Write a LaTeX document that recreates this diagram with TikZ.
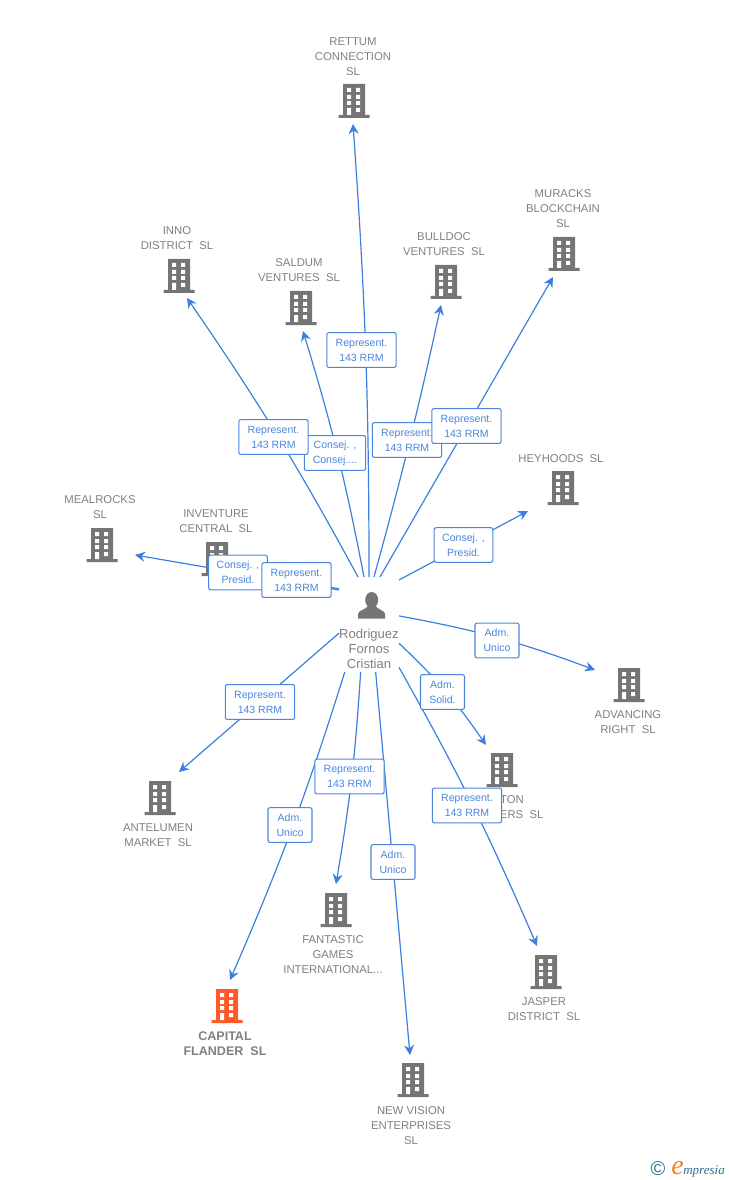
\documentclass[tikz,border=0pt]{standalone}
\usepackage{fontspec}
\setmainfont{Liberation Sans}
\newfontfamily\logofont{Liberation Serif}
\usetikzlibrary{arrows.meta}
\definecolor{linkblue}{HTML}{3B80E0}
\definecolor{tagblue}{HTML}{4A86DC}
\definecolor{towergray}{HTML}{757575}
\definecolor{namegray}{HTML}{808080}
\definecolor{towerred}{HTML}{FF5A2B}
\definecolor{logoteal}{HTML}{2F6F8F}
\definecolor{logoorange}{HTML}{F58220}
\tikzset{
  pics/tower/.style={code={
    \fill[#1] (-11,-17) rectangle (11,14) (-15.5,14) rectangle (15.5,17);
    \fill[white] (-7,-13) rectangle (-3,-9) (2,-13) rectangle (6,-9)
      (-7,-6) rectangle (-3,-2) (2,-6) rectangle (6,-2)
      (-7,0) rectangle (-3,4) (2,0) rectangle (6,4)
      (-7,7) rectangle (-3,14) (2,7) rectangle (6,11);
  }}
}
\begin{document}
\begin{tikzpicture}[x=0.75pt,y=-0.75pt,
  spot/.style = {inner sep=0pt,outer sep=0pt,minimum size=24pt},
  towername/.style = {align=center,text=namegray,yshift=-0.7pt,font=\fontsize{8.5}{11.25}\selectfont},
  boldname/.style = {align=center,text=namegray,yshift=-0.7pt,font=\fontsize{9.4}{11.25}\selectfont\bfseries},
  tag/.style = {rectangle,rounded corners=1.5pt,draw=tagblue,thick,fill=white,text=tagblue,
    align=center,minimum height=26pt,inner sep=0pt,font=\fontsize{7.9}{11.25}\selectfont,
    execute at begin node={\rule{0pt}{7.2pt}}},
  link/.style = {draw=linkblue,line width=0.9pt,-{Stealth[length=7.5pt,width=7.5pt,inset=2.5pt]}}]
\useasboundingbox (0,0) rectangle (728,1180);
% buildings
\foreach \nm/\x/\y in {rettum/354/101, muracks/564/254, inno/179/276, saldum/301/308,
    bulldoc/446/282, heyhoods/563/488, mealrocks/102/545, inventure/217/559,
    advancing/629/685, antelumen/160/798, xton/502/770, jasper/546/972,
    fantastic/336/910, newvision/413/1080}{
  \node[spot] (\nm) at (\x,\y) {};
  \pic at (\nm) {tower=towergray};
}
\node[spot] (capital) at (227,1006) {};
\pic at (capital) {tower=towerred};
% arrow ends
\foreach \nm/\x/\y in {rettum/353/124, muracks/553/277, inno/187/298, saldum/303/331,
    bulldoc/441/305, heyhoods/528/511, mealrocks/135/555, inventure/252/574,
    advancing/595/670, antelumen/179/772, xton/486/745, jasper/537/946,
    fantastic/336/884, newvision/410/1055, capital/230/980}
  \coordinate (tip \nm) at (\x,\y);
% names
\foreach \nm/\x/\y/\t in {rettum/353/56/{RETTUM\\CONNECTION\\SL}, inno/177/237.5/{INNO\\DISTRICT\ \ SL},
    saldum/299/269.5/{SALDUM\\VENTURES\ \ SL}, bulldoc/444/243.5/{BULLDOC\\VENTURES\ \ SL},
    muracks/563/208/{MURACKS\\BLOCKCHAIN\\SL}, heyhoods/561/458/{HEYHOODS\ \ SL},
    mealrocks/100/506.5/{MEALROCKS\\SL}, inventure/216/520.5/{INVENTURE\\CENTRAL\ \ SL},
    advancing/628/721.5/{ADVANCING\\RIGHT\ \ SL}, antelumen/158/834.5/{ANTELUMEN\\MARKET\ \ SL},
    xton/500/806/{\hspace*{18pt}TON\\\hspace*{32.5pt}ERS\ \ SL}, jasper/544/1008.5/{JASPER\\DISTRICT\ \ SL},
    fantastic/333/954/{FANTASTIC\\GAMES\\INTERNATIONAL...}, newvision/411/1125/{NEW VISION\\ENTERPRISES\\SL}}{
  \node[towername] (name \nm) at (\x,\y) {\t};
}
\node[boldname] (name capital) at (225,1043) {CAPITAL\\FLANDER\ \ SL};
% person
\node[rectangle,minimum width=45pt,minimum height=71.25pt,inner sep=0pt,outer sep=0pt] (person) at (369,624.5) {};
\node[align=center,text=namegray,yshift=-0.7pt,font=\fontsize{9.8}{11.25}\selectfont] (name person) at (369,648) {Rodriguez\\Fornos\\Cristian};
\fill[towergray] (371.7,600) ellipse (6.5 and 8);
\fill[towergray] (358,618.5) -- (358,614) .. controls (358,610.5) and (365,610) .. (368,606)
  -- (375.5,606) .. controls (378.5,610) and (385,610.5) .. (385,614) -- (385,618.5) -- cycle;
% connectors
\draw[link] (person.103) to[bend right=3] (tip inno);
\draw[link] (person.96) to[bend right=3] (tip saldum);
\draw[link] (person.90) to[bend right=2] (tip rettum);
\draw[link] (person.84) to[bend right=1.5] (tip bulldoc);
\draw[link] (person.77) -- (tip muracks);
\draw[link] (person.56) -- (tip heyhoods);
\draw[link] (person.16) to[bend left=5] (tip advancing);
\draw[link] (person.-32) to[bend left=6] (tip xton);
\draw[link] (person.-55) to[bend left=3] (tip jasper);
\draw[link] (person.-82) -- (tip newvision);
\draw[link] (person.260) to[bend left=3] (tip fantastic);
\draw[link] (person.243) to[bend left=3] (tip capital);
\draw[link] (person.196) -- (tip antelumen);
\draw[link] (person.131) -- (tip mealrocks);
\draw[link] (person.130) -- (tip inventure);
% tags
\node[tag,minimum width=46pt] (t saldum) at (335,453) {Consej. ,\\Consej....};
\node[tag,minimum width=52pt] (t inno) at (273.5,437) {Represent.\\143 RRM};
\node[tag,minimum width=52pt] (t rettum) at (361.5,350) {Represent.\\143 RRM};
\node[tag,minimum width=52pt] (t bulldoc) at (407,440) {Represent.\\143 RRM};
\node[tag,minimum width=52pt] (t muracks) at (466.5,426) {Represent.\\143 RRM};
\node[tag,minimum width=44pt] (t heyhoods) at (463.5,545) {Consej. ,\\Presid.};
\node[tag,minimum width=44pt] (t mealrocks) at (238,572.5) {Consej. ,\\Presid.};
\node[tag,minimum width=52pt] (t inventure) at (296.5,580) {Represent.\\143 RRM};
\node[tag,minimum width=33pt] (t advancing) at (497,640.5) {Adm.\\Unico};
\node[tag,minimum width=33pt] (t xton) at (442.5,692) {Adm.\\Solid.};
\node[tag,minimum width=52pt] (t jasper) at (467,805.5) {Represent.\\143 RRM};
\node[tag,minimum width=52pt] (t antelumen) at (260,702) {Represent.\\143 RRM};
\node[tag,minimum width=52pt] (t fantastic) at (349.5,776.5) {Represent.\\143 RRM};
\node[tag,minimum width=33pt] (t capital) at (290,825) {Adm.\\Unico};
\node[tag,minimum width=33pt] (t newvision) at (393,862) {Adm.\\Unico};
% logo
\node[text=logoteal,font=\fontsize{15}{15}\selectfont,inner sep=0pt] (logo mark) at (658,1168.5) {©};
\node[anchor=base west,text=logoorange,font=\logofont\itshape\fontsize{21}{21}\selectfont,inner sep=0pt] (logo e) at (671,1174) {e};
\node[anchor=base west,text=logoteal,font=\logofont\itshape\fontsize{9.8}{10}\selectfont,inner sep=0pt] (logo word) at (683,1174) {mpresia};
\end{tikzpicture}
\end{document}
